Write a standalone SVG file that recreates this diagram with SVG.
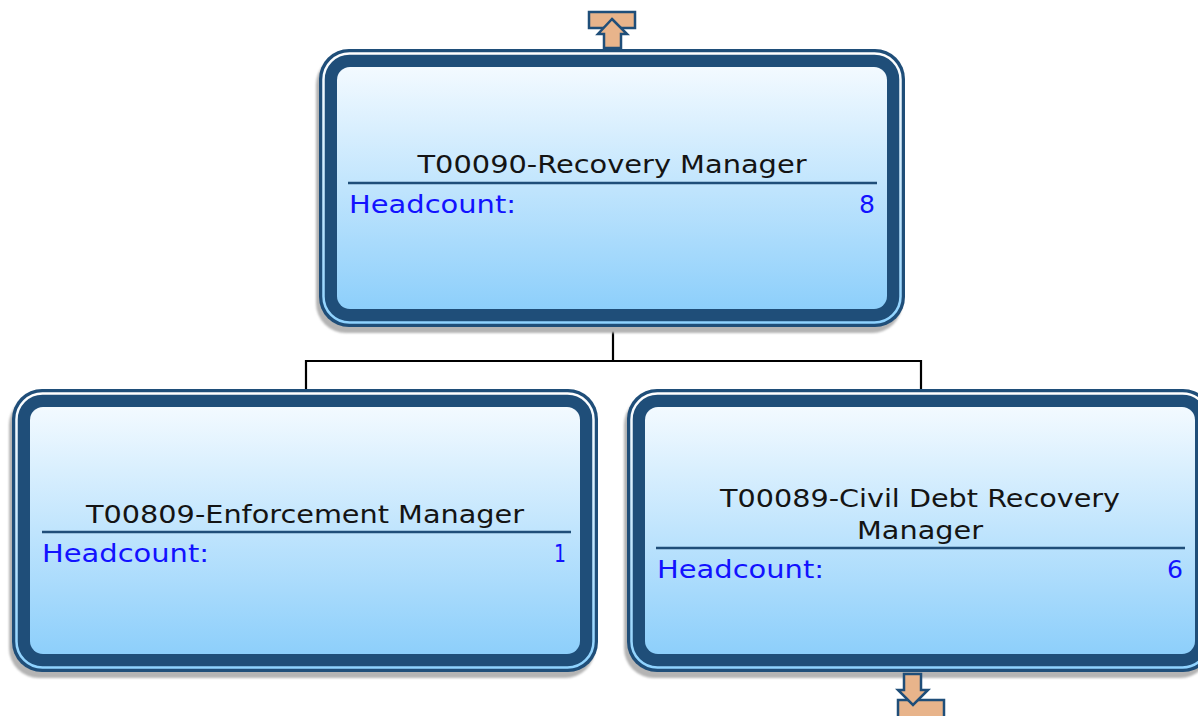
<svg xmlns="http://www.w3.org/2000/svg" width="1198" height="716" viewBox="0 0 1198 716">
<defs>
<linearGradient id="fill" x1="0" y1="0" x2="0" y2="1">
<stop offset="0" stop-color="#f3faff"/>
<stop offset="1" stop-color="#8dcffb"/>
</linearGradient>
<linearGradient id="ring" x1="0" y1="0" x2="0" y2="1">
<stop offset="0" stop-color="#ffffff"/>
<stop offset="1" stop-color="#8fd3ff"/>
</linearGradient>
<filter id="blur" x="-5%" y="-5%" width="110%" height="110%"><feGaussianBlur stdDeviation="1"/></filter>
</defs>
<style>
.shadow{fill:#b4b4b4;filter:url(#blur)}
.outer{fill:#1f4e79}
.ring{fill:none;stroke:url(#ring);stroke-width:2.5}
.inner{fill:url(#fill)}
.title{font-family:"DejaVu Sans",Verdana,sans-serif;font-size:24px;fill:#141414;text-anchor:middle}
.hc{font-family:"DejaVu Sans",Verdana,sans-serif;font-size:24px;fill:#1212ff}
.num{font-family:"DejaVu Sans",Verdana,sans-serif;font-size:24px;fill:#1212ff;text-anchor:end}
.sep{stroke:#1f4e79;stroke-width:2.5}
.conn{fill:none;stroke:#000;stroke-width:2.2}
.btn{fill:#e8b48b;stroke:#1f4e79;stroke-width:2.5;stroke-linejoin:miter}
</style>
<g id="connectors">
<path class="conn" d="M613,329 V361 M306,361 H922 M306,360 V390 M921,360 V390"/>
</g>
<g id="node-T00090">
<rect class="shadow" x="316" y="55" width="586" height="278" rx="30"/>
<rect class="outer" x="319" y="49" width="586" height="278" rx="30"/>
<rect class="ring" x="323.5" y="53.5" width="577" height="269" rx="26"/>
<rect class="inner" x="337" y="67" width="550" height="242" rx="13"/>
<text class="title" x="612" y="173" textLength="389" lengthAdjust="spacingAndGlyphs">T00090-Recovery Manager</text>
<line class="sep" x1="348" y1="183" x2="877" y2="183"/>
<text class="hc" x="349" y="213" textLength="167" lengthAdjust="spacingAndGlyphs">Headcount:</text>
<text class="num" x="875" y="213" textLength="16" lengthAdjust="spacingAndGlyphs">8</text>
</g>
<g id="node-T00809">
<rect class="shadow" x="9" y="395" width="586" height="283" rx="30"/>
<rect class="outer" x="12" y="389" width="586" height="283" rx="30"/>
<rect class="ring" x="16.5" y="393.5" width="577" height="274" rx="26"/>
<rect class="inner" x="30" y="407" width="550" height="247" rx="13"/>
<text class="title" x="305" y="523" textLength="438" lengthAdjust="spacingAndGlyphs">T00809-Enforcement Manager</text>
<line class="sep" x1="42" y1="532" x2="571" y2="532"/>
<text class="hc" x="42" y="562" textLength="167" lengthAdjust="spacingAndGlyphs">Headcount:</text>
<text class="num" x="566" y="562" textLength="12" lengthAdjust="spacingAndGlyphs">1</text>
</g>
<g id="node-T00089">
<rect class="shadow" x="624" y="395" width="586" height="283" rx="30"/>
<rect class="outer" x="627" y="389" width="586" height="283" rx="30"/>
<rect class="ring" x="631.5" y="393.5" width="577" height="274" rx="26"/>
<rect class="inner" x="645" y="407" width="550" height="247" rx="13"/>
<text class="title" x="920" y="507" textLength="400" lengthAdjust="spacingAndGlyphs">T00089-Civil Debt Recovery</text>
<text class="title" x="920" y="539" textLength="126" lengthAdjust="spacingAndGlyphs">Manager</text>
<line class="sep" x1="656" y1="548" x2="1185" y2="548"/>
<text class="hc" x="657" y="578" textLength="167" lengthAdjust="spacingAndGlyphs">Headcount:</text>
<text class="num" x="1183" y="578" textLength="16" lengthAdjust="spacingAndGlyphs">6</text>
</g>
<g id="expand-up">
<rect class="btn" x="589" y="12" width="46" height="16"/>
<polygon class="btn" points="612,19 627,34 621,34 621,48 604,48 604,34 598,34"/>
</g>
<g id="expand-down">
<rect class="btn" x="898" y="700" width="46" height="20"/>
<polygon class="btn" points="904,674 921,674 921,690 928,690 913,705 898,690 904,690"/>
</g>
</svg>
